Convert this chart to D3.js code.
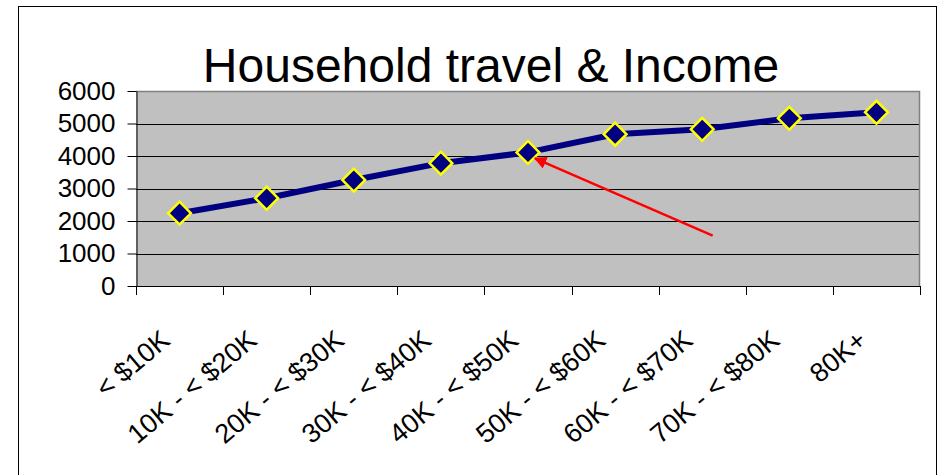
<!DOCTYPE html>
<html>
<head>
<meta charset="utf-8">
<script src="https://cdn.jsdelivr.net/npm/d3@7"></script>
<style>
  body { margin: 0; background: #fff; }
  svg { display: block; font-family: "Liberation Sans", Arial, sans-serif; }
</style>
</head>
<body>
<div id="chart"></div>
<script>
// chart data
var title = "Household travel & Income";
var categories = ["< $10K", "10K - < $20K", "20K - < $30K", "30K - < $40K", "40K - < $50K",
                  "50K - < $60K", "60K - < $70K", "70K - < $80K", "80K+"];
var trips = [2240, 2700, 3260, 3780, 4110, 4670, 4820, 5160, 5345];
var yTicks = [0, 1000, 2000, 3000, 4000, 5000, 6000];
// red arrow: from (category index, value) to (category index, value)
var arrowFrom = [6.62, 1550];
var arrowTo = [4.58, 3930];

var W = 940, H = 475;
var plot = {left: 136, right: 920, top: 91, bottom: 286};

var svg = d3.select("#chart").append("svg")
  .attr("width", W).attr("height", H);

// outer chart frame
svg.append("rect")
  .attr("x", 18.5).attr("y", 6.5)
  .attr("width", 918).attr("height", 480)
  .attr("fill", "#fff").attr("stroke", "#000").attr("stroke-width", 1);

var x = d3.scaleBand().domain(categories).range([plot.left, plot.right]).padding(0);
var xi = d3.scaleLinear().domain([0, categories.length]).range([plot.left, plot.right]);
var y = d3.scaleLinear().domain([0, 6000]).range([plot.bottom, plot.top]);

// plot area background
svg.append("rect")
  .attr("x", plot.left).attr("y", plot.top)
  .attr("width", plot.right - plot.left).attr("height", plot.bottom - plot.top)
  .attr("fill", "#c0c0c0");

// gridlines
svg.append("g").selectAll("line")
  .data(yTicks.filter(function(d) { return d > 0 && d < 6000; }))
  .enter().append("line")
  .attr("x1", plot.left).attr("x2", plot.right)
  .attr("y1", function(d) { return Math.round(y(d)) + 0.5; })
  .attr("y2", function(d) { return Math.round(y(d)) + 0.5; })
  .attr("stroke", "#000").attr("stroke-width", 1);

// gray plot border top/right
svg.append("path")
  .attr("d", "M" + plot.left + "," + (plot.top + 0.5) + "H" + (plot.right - 0.5) + "V" + plot.bottom)
  .attr("fill", "none").attr("stroke", "#808080").attr("stroke-width", 1.5);

// y axis
var yAxis = svg.append("g")
  .attr("transform", "translate(" + (plot.left + 0.5) + ",0)")
  .call(d3.axisLeft(y).tickValues(yTicks).tickFormat(d3.format("d"))
    .tickSize(9).tickPadding(12).tickSizeOuter(0));
yAxis.select(".domain").attr("stroke", "#000");
yAxis.selectAll(".tick line").attr("stroke", "#000");
yAxis.selectAll("text").attr("font-size", 26).attr("fill", "#000")
  .attr("font-family", "Liberation Sans, Arial, sans-serif");

// x axis line and tick marks on category boundaries
var xg = svg.append("g");
xg.append("line")
  .attr("x1", plot.left).attr("x2", plot.right)
  .attr("y1", plot.bottom + 0.5).attr("y2", plot.bottom + 0.5)
  .attr("stroke", "#000");
xg.selectAll("line.tk")
  .data(d3.range(categories.length + 1))
  .enter().append("line").attr("class", "tk")
  .attr("x1", function(i) { return Math.round(xi(i)) + 0.5; })
  .attr("x2", function(i) { return Math.round(xi(i)) + 0.5; })
  .attr("y1", plot.bottom).attr("y2", plot.bottom + 9)
  .attr("stroke", "#000");

// rotated category labels
xg.selectAll("text")
  .data(categories)
  .enter().append("text")
  .attr("transform", function(d) {
    var cx = x(d) + x.bandwidth() / 2 - 8;
    return "translate(" + cx + "," + (plot.bottom + 57) + ") rotate(-40)";
  })
  .attr("text-anchor", "end")
  .attr("font-size", 27)
  .attr("fill", "#000")
  .text(function(d) { return d; });

// series line
var line = d3.line()
  .x(function(d, i) { return x(categories[i]) + x.bandwidth() / 2; })
  .y(function(d) { return y(d); });
svg.append("path")
  .datum(trips)
  .attr("d", line)
  .attr("fill", "none")
  .attr("stroke", "#000080")
  .attr("stroke-width", 6)
  .attr("stroke-linejoin", "round");

// diamond markers
var diamond = d3.symbol().type(d3.symbolSquare).size(260);
svg.append("g").selectAll("path")
  .data(trips)
  .enter().append("path")
  .attr("d", diamond)
  .attr("transform", function(d, i) {
    return "translate(" + (x(categories[i]) + x.bandwidth() / 2) + "," + y(d) + ") rotate(45)";
  })
  .attr("fill", "#000080")
  .attr("stroke", "#ffff00")
  .attr("stroke-width", 2.5);

// red arrow
svg.append("defs").append("marker")
  .attr("id", "arrowhead")
  .attr("viewBox", "0 0 10 10")
  .attr("refX", 9).attr("refY", 5)
  .attr("markerWidth", 5).attr("markerHeight", 5)
  .attr("markerUnits", "strokeWidth")
  .attr("orient", "auto")
  .append("path").attr("d", "M0,0L10,5L0,10z").attr("fill", "#ff0000");
svg.append("line")
  .attr("x1", xi(arrowFrom[0])).attr("y1", y(arrowFrom[1]))
  .attr("x2", xi(arrowTo[0])).attr("y2", y(arrowTo[1]))
  .attr("stroke", "#ff0000").attr("stroke-width", 2.5)
  .attr("marker-end", "url(#arrowhead)");

// title
svg.append("text")
  .attr("x", 491).attr("y", 82)
  .attr("text-anchor", "middle")
  .attr("font-size", 48)
  .attr("fill", "#000")
  .text(title);
</script>
</body>
</html>
